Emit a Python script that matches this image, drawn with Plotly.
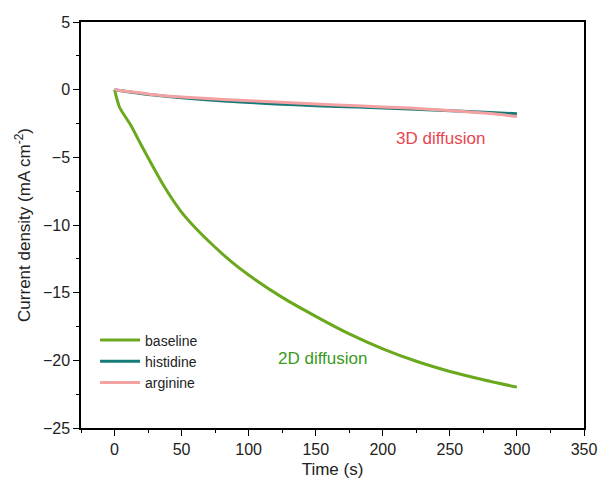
import plotly.graph_objects as go

# Data
time_baseline = [0, 3.7, 11.9, 19.4, 24.3, 36.7, 49.2, 61.6, 74, 86.4, 100, 125, 150, 175, 200, 225, 250, 275, 300]
baseline = [0, -1.3, -2.6, -4.0, -4.9, -7.1, -8.95, -10.35, -11.55, -12.65, -13.7, -15.35, -16.75, -18.05, -19.15, -20.07, -20.82, -21.43, -21.98]

time_amino = [0, 10, 29.3, 50, 81.3, 120, 150, 180.6, 220, 255, 280, 300]
histidine = [0, -0.15, -0.4, -0.6, -0.84, -1.05, -1.18, -1.29, -1.43, -1.58, -1.68, -1.78]
arginine = [0, -0.13, -0.38, -0.55, -0.72, -0.92, -1.06, -1.19, -1.36, -1.58, -1.77, -1.98]

x_ticks = [0, 50, 100, 150, 200, 250, 300, 350]
y_ticks = [5, 0, -5, -10, -15, -20, -25]

FONT = "Liberation Sans, Arial, sans-serif"
TXT = "#222222"

fig = go.Figure()
fig.add_trace(go.Scatter(x=time_baseline, y=baseline, mode="lines", name="baseline",
                         line=dict(color="#6aa81e", width=3, shape="spline", smoothing=0.6)))
fig.add_trace(go.Scatter(x=time_amino, y=histidine, mode="lines", name="histidine",
                         line=dict(color="#157a78", width=3, shape="spline", smoothing=0.6)))
fig.add_trace(go.Scatter(x=time_amino, y=arginine, mode="lines", name="arginine",
                         line=dict(color="#f4a1a1", width=3, shape="spline", smoothing=0.6)))

fig.add_annotation(x=243, y=-3.6, text="3D diffusion", showarrow=False,
                   font=dict(color="#e8474f", size=17, family=FONT))
fig.add_annotation(x=155, y=-19.85, text="2D diffusion", showarrow=False,
                   font=dict(color="#3a9a22", size=17, family=FONT))

axis_common = dict(showline=True, linecolor="black", linewidth=1.5, mirror=True,
                   ticks="outside", ticklen=6, tickwidth=1.2, tickcolor="black",
                   showgrid=False, zeroline=False, automargin=False,
                   tickfont=dict(size=16, color=TXT, family=FONT))

fig.update_xaxes(range=[-25, 350], tickvals=x_ticks,
                 minor=dict(ticks="outside", ticklen=3, tickwidth=1.2, tickcolor="black", dtick=25),
                 title=dict(text="Time (s)", font=dict(size=17, color=TXT, family=FONT), standoff=6),
                 **axis_common)
fig.update_yaxes(range=[-25, 5], tickvals=y_ticks,
                 minor=dict(ticks="outside", ticklen=3, tickwidth=1.2, tickcolor="black", dtick=2.5),
                 title=dict(text="Current density (mA cm<sup>-2</sup>)", font=dict(size=17, color=TXT, family=FONT), standoff=8),
                 **axis_common)

fig.update_layout(
    width=599, height=484,
    margin=dict(l=81, r=15, t=22, b=56),
    paper_bgcolor="white", plot_bgcolor="white",
    font=dict(family=FONT),
    legend=dict(x=0.028, y=0.255, xanchor="left", yanchor="top",
                bgcolor="rgba(0,0,0,0)", font=dict(size=14, color=TXT, family=FONT),
                tracegroupgap=0, itemwidth=40),
)

# remove the default page margin so the 599x484 figure fills the window exactly
fig.write_html("out.html",
               config={"displayModeBar": False},
               post_script="document.body.style.margin='0';document.body.style.overflow='hidden';")
